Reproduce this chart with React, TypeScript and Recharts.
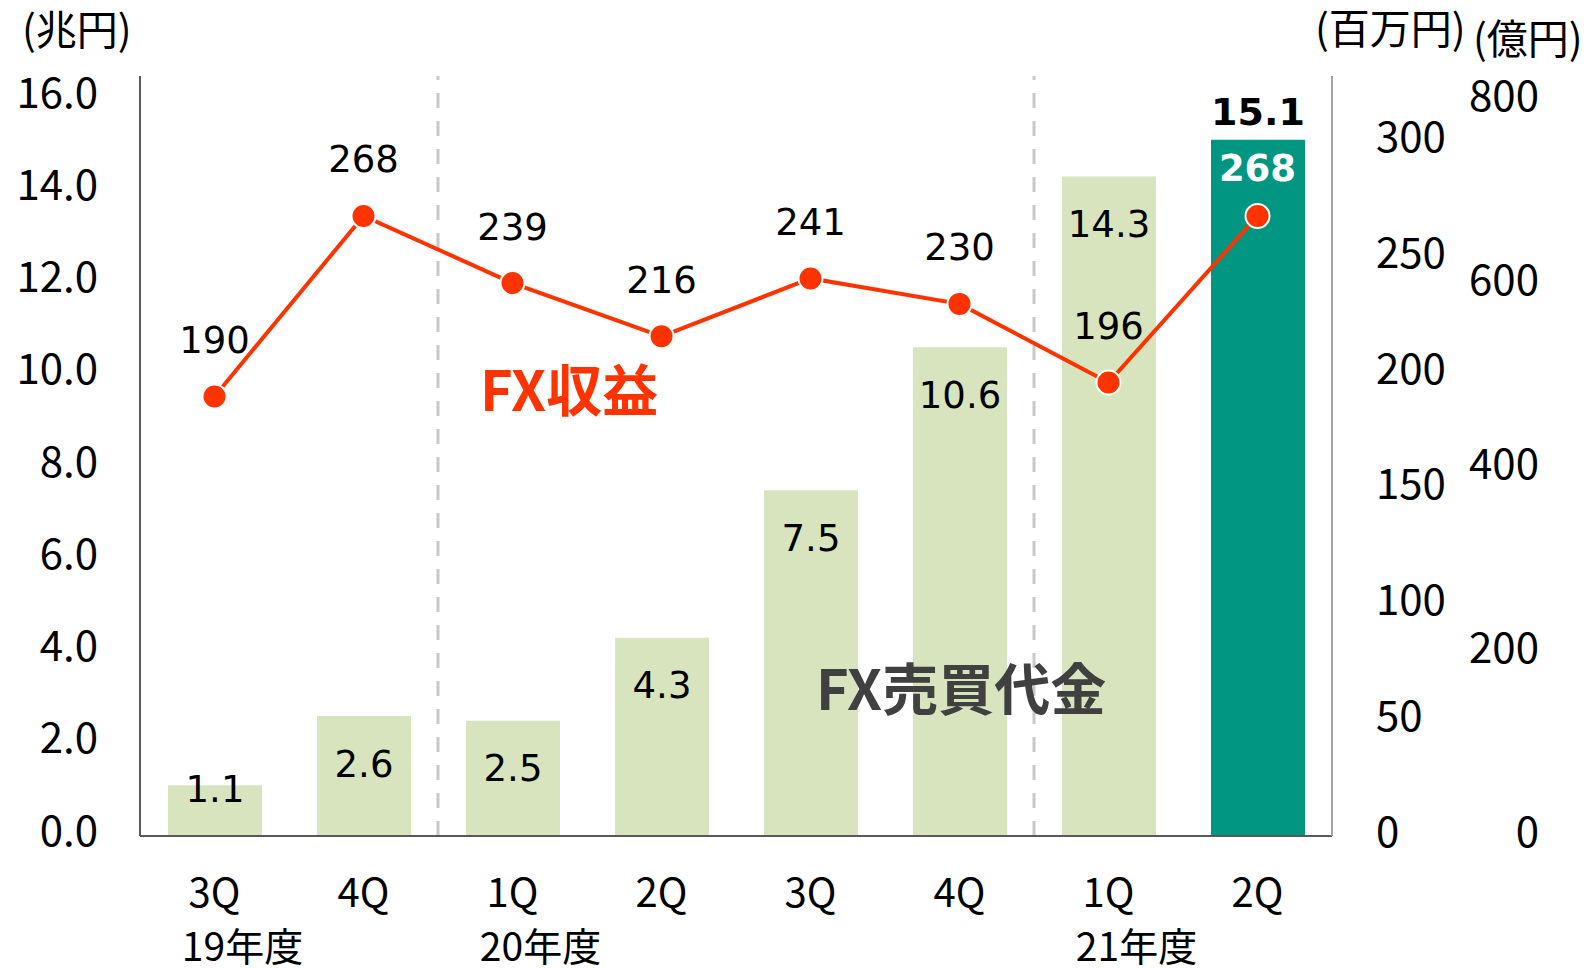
import {
  Bar,
  Cell,
  ComposedChart,
  LabelList,
  Line,
  ReferenceLine,
  XAxis,
  YAxis,
} from "recharts";

const quarters = ["3Q", "4Q", "1Q", "2Q", "3Q", "4Q", "1Q", "2Q"];
const fiscalYearOf = ["FY19", "FY19", "FY20", "FY20", "FY20", "FY20", "FY21", "FY21"];
const fiscalYears = ["19年度", "", "20年度", "", "", "", "21年度", ""];
const fxVolume = [1.1, 2.6, 2.5, 4.3, 7.5, 10.6, 14.3, 15.1];
const fxRevenue = [190, 268, 239, 216, 241, 230, 196, 268];
const leftTicks = [0, 2, 4, 6, 8, 10, 12, 14, 16];
const millionTicks = [0, 50, 100, 150, 200, 250, 300];
const okuTicks = [0, 200, 400, 600, 800];
// first quarter of each new fiscal year gets a dashed divider before it
const yearStarts = ["FY20-1Q", "FY21-1Q"];

const data = quarters.map((q, i) => ({
  key: `${fiscalYearOf[i]}-${q}`,
  q,
  volume: fxVolume[i],
  revenue: fxRevenue[i],
}));

const LAST = fxVolume.length - 1;
const CJK = '"Noto Sans CJK JP", "Noto Sans", sans-serif';
const NUM = '"DejaVu Sans", Verdana, sans-serif';

function LeftTick({ x, y, payload }: any) {
  return (
    <text x={x} y={y - 9} textAnchor="end" dominantBaseline="central" fontSize={42} fontFamily={CJK} fill="#000">
      {payload.value.toFixed(1)}
    </text>
  );
}

function MillionTick({ x, y, payload }: any) {
  return (
    <text x={x} y={y - 8} textAnchor="start" dominantBaseline="central" fontSize={42} fontFamily={CJK} fill="#000">
      {payload.value}
    </text>
  );
}

function OkuTick({ x, y, payload }: any) {
  return (
    <text x={x} y={y - 8} textAnchor="end" dominantBaseline="central" fontSize={42} fontFamily={CJK} fill="#000">
      {payload.value}
    </text>
  );
}

function QuarterTick({ x, y, index }: any) {
  const yr = fiscalYears[index];
  return (
    <g>
      <text x={x} y={y + 54} textAnchor="middle" dominantBaseline="central" fontSize={40} fontFamily={CJK} fill="#000">
        {quarters[index]}
      </text>
      {yr && (
        <text x={x + 28} y={y + 108} textAnchor="middle" dominantBaseline="central" fontSize={39} fontFamily={CJK} fill="#000">
          {yr}
        </text>
      )}
    </g>
  );
}

function BarValue({ x, y, width, height, value, index }: any) {
  const cx = x + width / 2;
  if (index === LAST) {
    return (
      <text x={cx} y={y - 28} textAnchor="middle" dominantBaseline="central" fontSize={38} fontWeight="bold" fontFamily={NUM} fill="#000">
        {value.toFixed(1)}
      </text>
    );
  }
  const ty = height < 70 ? y + 4 : y + 48;
  return (
    <text x={cx} y={ty} textAnchor="middle" dominantBaseline="central" fontSize={37} fontFamily={NUM} fill="#000">
      {value.toFixed(1)}
    </text>
  );
}

function LineValue({ x, y, value, index }: any) {
  const last = index === LAST;
  return (
    <text
      x={x}
      y={last ? y - 47 : y - 56}
      textAnchor="middle"
      dominantBaseline="central"
      fontSize={37}
      fontWeight={last ? "bold" : "normal"}
      fontFamily={NUM}
      fill={last ? "#fff" : "#000"}
    >
      {value}
    </text>
  );
}

export default function App() {
  return (
    <div style={{ position: "absolute", left: 0, top: 0, width: 1584, height: 968, background: "#fff", overflow: "hidden" }}>
      <ComposedChart
        width={1584}
        height={968}
        data={data}
        margin={{ top: 76, right: 0, bottom: 0, left: 0 }}
      >
        <XAxis
          dataKey="key"
          height={132}
          tickSize={0}
          tickMargin={0}
          tick={<QuarterTick />}
          axisLine={{ stroke: "#595959", strokeWidth: 2 }}
          interval={0}
        />
        <YAxis
          yAxisId="cho"
          width={140}
          domain={[0, 16.48]}
          ticks={leftTicks}
          tickSize={0}
          tickMargin={42}
          tick={<LeftTick />}
          axisLine={{ stroke: "#595959", strokeWidth: 2 }}
          allowDataOverflow
          interval={0}
        />
        <YAxis
          yAxisId="mil"
          orientation="right"
          width={110}
          domain={[0, 328.5]}
          ticks={millionTicks}
          tickSize={0}
          tickMargin={44}
          tick={<MillionTick />}
          axisLine={{ stroke: "#a6a6a6", strokeWidth: 2 }}
          allowDataOverflow
          interval={0}
        />
        <YAxis
          yAxisId="oku"
          orientation="right"
          width={142}
          domain={[0, 827]}
          ticks={okuTicks}
          tickSize={0}
          tickMargin={97}
          tick={<OkuTick />}
          axisLine={false}
          allowDataOverflow
          interval={0}
        />
        {yearStarts.map((k) => (
          <ReferenceLine
            key={k}
            x={k}
            position="start"
            yAxisId="cho"
            stroke="#c8c8c8"
            strokeWidth={3}
            strokeDasharray="15 13"
          />
        ))}
        <Bar dataKey="volume" yAxisId="cho" barSize={94} isAnimationActive={false}>
          {data.map((d, i) => (
            <Cell key={d.key} fill={i === LAST ? "#009682" : "#d7e4bd"} />
          ))}
          <LabelList dataKey="volume" content={<BarValue />} />
        </Bar>
        <Line
          dataKey="revenue"
          yAxisId="mil"
          stroke="#ff3300"
          strokeWidth={4}
          dot={{ r: 12, fill: "#ff3300", stroke: "#fff", strokeWidth: 2 }}
          activeDot={false}
          isAnimationActive={false}
        >
          <LabelList dataKey="revenue" content={<LineValue />} />
        </Line>
      </ComposedChart>
      <div style={{ position: "absolute", left: 22, top: 3, fontSize: 41, fontFamily: CJK, lineHeight: "48px" }}>(兆円)</div>
      <div style={{ position: "absolute", left: 1315, top: 2, fontSize: 41, fontFamily: CJK, lineHeight: "48px" }}>(百万円)</div>
      <div style={{ position: "absolute", left: 1473, top: 12, fontSize: 41, fontFamily: CJK, lineHeight: "48px" }}>(億円)</div>
      <div style={{ position: "absolute", left: 480, top: 355, fontSize: 56, fontWeight: "bold", fontFamily: CJK, color: "#ff3300", lineHeight: "64px" }}>FX収益</div>
      <div style={{ position: "absolute", left: 816, top: 654, fontSize: 56, fontWeight: "bold", fontFamily: CJK, color: "#404040", lineHeight: "64px" }}>FX売買代金</div>
    </div>
  );
}
